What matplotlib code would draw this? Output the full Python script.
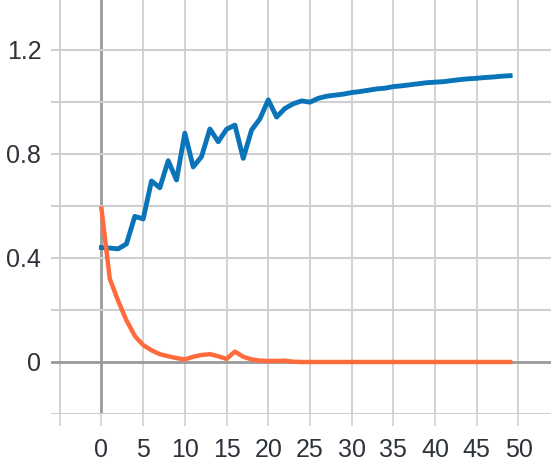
import matplotlib
matplotlib.use("Agg")
import matplotlib.pyplot as plt

epochs = list(range(50))
blue_vals = [0.44, 0.438, 0.435, 0.454, 0.56, 0.55, 0.696, 0.67, 0.774, 0.70,
             0.88, 0.75, 0.79, 0.896, 0.847, 0.895, 0.911, 0.783, 0.892, 0.935,
             1.008, 0.942, 0.975, 0.993, 1.004, 0.999, 1.014, 1.022, 1.026, 1.030,
             1.036, 1.040, 1.045, 1.050, 1.053, 1.059, 1.062, 1.066, 1.070, 1.074,
             1.076, 1.078, 1.082, 1.086, 1.089, 1.091, 1.094, 1.096, 1.099, 1.101]
orange_vals = [0.59, 0.32, 0.235, 0.16, 0.10, 0.065, 0.045, 0.03, 0.022, 0.015,
               0.01, 0.02, 0.027, 0.03, 0.022, 0.012, 0.04, 0.02, 0.01, 0.005,
               0.004, 0.004, 0.005, 0.001, 0.0, 0.0, 0.0, 0.0, 0.0, 0.0,
               0.0, 0.0, 0.0, 0.0, 0.0, 0.0, 0.0, 0.0, 0.0, 0.0,
               0.0, 0.0, 0.0, 0.0, 0.0, 0.0, 0.0, 0.0, 0.0, 0.0]
x_ticks = list(range(-5, 55, 5))
x_labels = ["" if t < 0 else str(t) for t in x_ticks]
y_grid = [-0.2, 0.0, 0.2, 0.4, 0.6, 0.8, 1.0, 1.2]
y_ticks = [0.0, 0.4, 0.8, 1.2]
y_labels = ["0", "0.4", "0.8", "1.2"]

plt.rcParams["font.family"] = ["Liberation Sans", "DejaVu Sans"]

fig = plt.figure(figsize=(5.51, 4.62), dpi=100)
ax = fig.add_axes([51 / 551, 48 / 462, 500 / 551, 414 / 462])
ax.set_xlim(-6.05, 53.9)
ax.set_ylim(-0.2, 1.392)

grid_c = "#cfcfcf"
for t in x_ticks:
    ax.axvline(t, color="#9a9a9a" if t == 0 else grid_c,
               lw=2.0 if t == 0 else 1.3, zorder=1)
for v in y_grid:
    ax.axhline(v, color="#9a9a9a" if v == 0 else grid_c,
               lw=2.0 if v == 0 else 1.5, zorder=1)

ax.plot(epochs, blue_vals, color="#0a74b9", lw=3.5, zorder=3)
ax.plot(epochs, orange_vals, color="#ff6b3d", lw=3.2, zorder=3)

for s in ax.spines.values():
    s.set_visible(False)

ax.set_xticks(x_ticks)
ax.set_xticklabels(x_labels)
ax.set_yticks(y_ticks)
ax.set_yticklabels(y_labels)
ax.tick_params(axis="x", length=8.4, width=1.2, color=grid_c, pad=9,
               labelsize=18, labelcolor="#2e323a")
ax.tick_params(axis="y", length=0, pad=7, labelsize=18, labelcolor="#2e323a")

fig.savefig("out.png", dpi=100)
